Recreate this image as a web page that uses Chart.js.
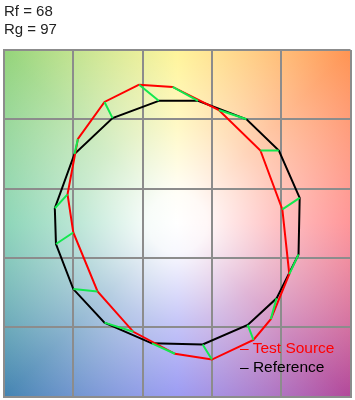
<!DOCTYPE html>
<html><head><meta charset="utf-8">
<script src="https://cdn.jsdelivr.net/npm/chart.js@4/dist/chart.umd.min.js"></script>
<style>
html,body{margin:0;padding:0;background:#fff;}
#wrap{position:relative;width:355px;height:400px;overflow:hidden;}
#c{position:absolute;left:0;top:0;}
#stats{position:absolute;left:4px;top:2px;font:15px "Liberation Sans",Arial,sans-serif;color:#222;line-height:17.5px;white-space:pre;}
#legend{position:absolute;left:240px;top:339px;font:15.5px "Liberation Sans",Arial,sans-serif;line-height:18.5px;white-space:pre;}
</style></head>
<body>
<div id="wrap"><canvas id="c" width="355" height="400"></canvas>
<div id="stats"></div>
<div id="legend"></div></div>
<script>
// metrics shown top-left
const metricNames = ['Rf', 'Rg'];
const metricValues = [68, 97];
// series
const seriesNames = ['Test Source', 'Reference'];
const testX = [-0.33, -0.04, 0.36, 0.72, 0.91, 0.97, 0.81, 0.66, 0.30, -0.02, -0.38, -0.69, -0.90, -0.95, -0.86, -0.63];
const testY = [1.20, 1.18, 0.98, 0.63, 0.12, -0.44, -0.83, -1.01, -1.18, -1.13, -0.94, -0.59, -0.08, 0.25, 0.73, 1.05];
const refX = [-0.16, 0.18, 0.60, 0.88, 1.06, 1.05, 0.86, 0.61, 0.22, -0.22, -0.63, -0.90, -1.05, -1.06, -0.89, -0.56];
const refY = [1.06, 1.06, 0.90, 0.63, 0.22, -0.27, -0.65, -0.88, -1.05, -1.04, -0.86, -0.57, -0.18, 0.13, 0.60, 0.91];
// axis
const axisMin = -1.5, axisMax = 1.5;
const tickValues = [-1.5, -0.9, -0.3, 0.3, 0.9, 1.5];

const closed = (xs, ys) => xs.map((x, i) => ({x, y: ys[i]})).concat([{x: xs[0], y: ys[0]}]);
const shifts = [];
testX.forEach((x, i) => {
  shifts.push({x: refX[i], y: refY[i]}, {x, y: testY[i]}, {x: null, y: null});
});

document.getElementById('stats').textContent = metricNames.map((n, i) => n + ' = ' + metricValues[i]).join('\n');
const legendColors = ['#ff0000', '#000000'];
document.getElementById('legend').innerHTML = seriesNames.map((n, i) => '<div style="color:' + legendColors[i] + '">\u2013 ' + n + '</div>').join('');

const bgPlugin = {
  id: 'cvgBackground',
  beforeDraw(chart) {
    const {ctx, chartArea: a} = chart;
    const cx = (a.left + a.right) / 2, cy = (a.top + a.bottom) / 2;
    ctx.save();
    const g = ctx.createConicGradient(0, cx, cy);
    g.addColorStop(0, '#ff6a6e');
    g.addColorStop(0.125, '#b2489a');
    g.addColorStop(0.25, '#7272ee');
    g.addColorStop(0.375, '#4484b2');
    g.addColorStop(0.5, '#5cc49a');
    g.addColorStop(0.625, '#94d47a');
    g.addColorStop(0.75, '#fff070');
    g.addColorStop(0.875, '#ff9452');
    g.addColorStop(1, '#ff6a6e');
    ctx.fillStyle = g;
    ctx.fillRect(a.left, a.top, a.width, a.height);
    const r = Math.hypot(a.width, a.height) / 2;
    const w = ctx.createRadialGradient(cx, cy, 0, cx, cy, r);
    w.addColorStop(0, 'rgba(255,255,255,1)');
    w.addColorStop(0.12, 'rgba(255,255,255,0.95)');
    w.addColorStop(0.4, 'rgba(255,255,255,0.6)');
    w.addColorStop(0.7, 'rgba(255,255,255,0.3)');
    w.addColorStop(1, 'rgba(255,255,255,0)');
    ctx.fillStyle = w;
    ctx.fillRect(a.left, a.top, a.width, a.height);
    ctx.restore();
  }
};

const axis = () => ({
  type: 'linear', min: axisMin, max: axisMax,
  afterBuildTicks: s => { s.ticks = tickValues.map(v => ({value: v})); },
  ticks: {display: false},
  grid: {color: '#8c8c8c', lineWidth: 2, drawTicks: false},
  border: {display: true, color: '#8c8c8c', width: 2}
});

new Chart(document.getElementById('c'), {
  type: 'scatter',
  data: {
    datasets: [
      {label: 'shift', data: shifts, showLine: true, spanGaps: false, borderColor: '#12e84e', borderWidth: 2, pointRadius: 0},
      {label: seriesNames[0], data: closed(testX, testY), showLine: true, borderColor: '#ff0000', borderWidth: 2, pointRadius: 0},
      {label: seriesNames[1], data: closed(refX, refY), showLine: true, borderColor: '#000000', borderWidth: 2, pointRadius: 0}
    ]
  },
  options: {
    responsive: false, animation: false, devicePixelRatio: 1,
    layout: {padding: {left: 4, top: 50, right: 4.5, bottom: 3.5}},
    plugins: {legend: {display: false}, tooltip: {enabled: false}},
    scales: {x: axis(), y: axis()}
  },
  plugins: [bgPlugin]
});
</script>
</body></html>
